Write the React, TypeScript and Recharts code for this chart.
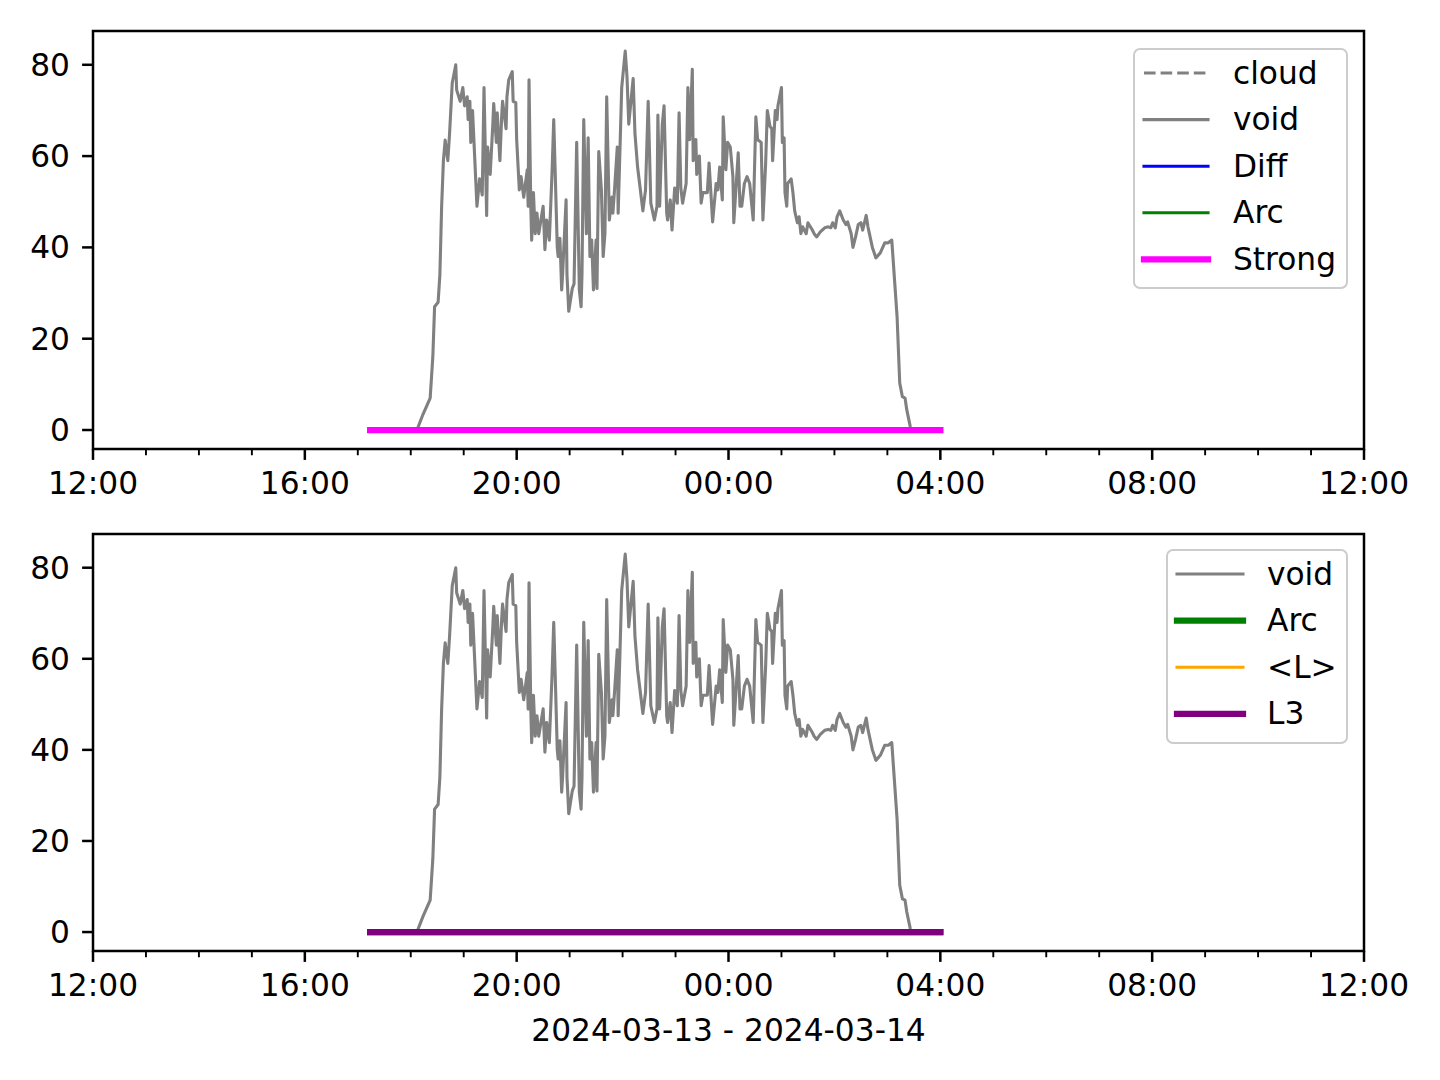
import React from 'react';
import { LineChart, Line, XAxis, YAxis, Legend, ReferenceArea } from 'recharts';

// grey "void" trace (clock time, value)
const voidTimes = [
  '18:07', '18:14', '18:22', '18:25', '18:27', '18:31', '18:33', '18:35', '18:37', '18:39',
  '18:42', '18:44', '18:47', '18:48', '18:51', '18:52', '18:56', '18:59', '19:01', '19:04',
  '19:05', '19:07', '19:08', '19:10', '19:15', '19:18', '19:21', '19:23', '19:26', '19:27',
  '19:30', '19:33', '19:34', '19:37', '19:38', '19:41', '19:43', '19:44', '19:48', '19:49',
  '19:51', '19:55', '19:56', '19:59', '20:00', '20:03', '20:05', '20:08', '20:12', '20:13',
  '20:14', '20:16', '20:17', '20:19', '20:21', '20:23', '20:25', '20:30', '20:32', '20:34',
  '20:37', '20:40', '20:42', '20:46', '20:47', '20:49', '20:51', '20:52', '20:56', '20:57',
  '20:59', '21:03', '21:05', '21:08', '21:11', '21:13', '21:14', '21:16', '21:19', '21:21',
  '21:23', '21:25', '21:27', '21:30', '21:31', '21:33', '21:36', '21:38', '21:40', '21:42',
  '21:45', '21:48', '21:49', '21:51', '21:54', '21:55', '21:59', '22:03', '22:05', '22:07',
  '22:12', '22:14', '22:17', '22:23', '22:26', '22:29', '22:32', '22:36', '22:39', '22:40',
  '22:42', '22:45', '22:47', '22:50', '22:51', '22:54', '22:56', '22:59', '23:02', '23:04',
  '23:06', '23:08', '23:12', '23:14', '23:16', '23:19', '23:20', '23:23', '23:24', '23:27',
  '23:29', '23:31', '23:36', '23:38', '23:42', '23:46', '23:48', '23:50', '23:53', '23:54',
  '23:57', '23:59', '00:02', '00:05', '00:06', '00:11', '00:13', '00:15', '00:18', '00:21',
  '00:24', '00:28', '00:31', '00:33', '00:37', '00:39', '00:42', '00:44', '00:47', '00:49',
  '00:50', '00:53', '00:55', '00:56', '01:00', '01:01', '01:03', '01:04', '01:06', '01:07',
  '01:11', '01:13', '01:15', '01:18', '01:20', '01:22', '01:24', '01:28', '01:30', '01:35',
  '01:37', '01:40', '01:44', '01:49', '01:53', '01:56', '01:58', '02:01', '02:03', '02:06',
  '02:10', '02:13', '02:15', '02:19', '02:21', '02:24', '02:27', '02:30', '02:32', '02:36',
  '02:38', '02:43', '02:47', '02:52', '02:57', '03:01', '03:05', '03:06', '03:11', '03:14',
  '03:17', '03:20', '03:22', '03:26', '03:27',
];
const voidValues = [
  0, 3.5, 7, 16, 27, 28, 34, 49, 59, 63.5,
  59, 65, 76, 77, 80, 74.5, 72, 75, 71, 73,
  68, 72, 63, 70, 49, 55, 51.5, 75, 47, 62,
  56, 67, 71.5, 63, 69.5, 59, 68.6, 72, 66, 73,
  76.7, 78.5, 72, 71.7, 63.6, 52.6, 55.5, 51, 57, 49,
  76.7, 49, 41.6, 52, 43, 47.5, 43, 49, 39.5, 46,
  41.6, 56, 68, 40, 38, 42, 30.7, 34, 50.4, 34,
  26, 31, 32, 63, 30.7, 27, 34, 68, 43, 64,
  38, 41.6, 30.7, 41.6, 31, 61, 52.6, 38, 43, 73,
  46, 51, 47.5, 53, 62, 47.5, 75, 83, 77.4, 67,
  77, 65, 57.6, 48, 52.6, 72, 49.7, 46, 49, 69,
  49, 67, 71, 47.5, 46, 50.4, 43.8, 53, 49.7, 69.5,
  53, 49.7, 54, 75, 63.6, 79, 59, 63.6, 56, 60,
  49.7, 52, 52, 58.5, 45.6, 54, 52.6, 57.6, 50.4, 68.6,
  57, 63, 62, 55.5, 45.4, 60.7, 49, 49, 54, 55.5,
  54, 46, 68.6, 63.6, 63, 46, 58, 70, 66.5, 66,
  59, 70, 68, 71, 75, 63, 64, 52, 49, 54,
  55, 52, 48, 45.4, 46.7, 43, 44.5, 43, 45.4, 43.8,
  43, 42.3, 43.4, 44.3, 44.5, 44.3, 45.4, 44.3, 46.7, 48,
  46, 45, 45.6, 43, 40, 42.3, 45, 45.4, 43.8, 47,
  44.5, 40, 37.7, 38.8, 41, 41, 41.6, 38.8, 24.8, 10.3,
  7.3, 7, 4.4, 0.7, 0,
];

// flat series sitting on zero
const flatTimes = ['17:14', '04:00'];
const diffValues = [0, 0];
const arcValues = [0, 0];
const strongValues = [0, 0];
const meanLValues = [0, 0];
const l3Values = [0, 0];

const xTicks = [
  0, 60, 120, 180, 240, 300, 360, 420, 480, 540, 600, 660, 720,
  780, 840, 900, 960, 1020, 1080, 1140, 1200, 1260, 1320, 1380, 1440,
];
const yTicks = [0, 20, 40, 60, 80];
const dateLabel = '2024-03-13 - 2024-03-14';

const FONT = 'DejaVu Sans';
const FS = 31.25;
const X_DOMAIN = [0, 1440];
const Y_DOMAIN = [-4.16, 87.4];

// minutes after 12:00 of the first day
const toMin = (s: string) => {
  const [h, m] = s.split(':').map(Number);
  let t = (h - 12) * 60 + m;
  if (t < 0) t += 1440;
  return t;
};
const fmtClock = (v: number) => {
  const t = (720 + v) % 1440;
  const h = Math.floor(t / 60);
  const m = t % 60;
  return `${String(h).padStart(2, '0')}:${String(m).padStart(2, '0')}`;
};
const series = (times: string[], values: number[]) =>
  times.map((s, i) => ({ t: toMin(s), v: values[i] }));

const voidData = series(voidTimes, voidValues);
const diffData = series(flatTimes, diffValues);
const arcData = series(flatTimes, arcValues);
const strongData = series(flatTimes, strongValues);
const meanLData = series(flatTimes, meanLValues);
const l3Data = series(flatTimes, l3Values);

const XTick = (props: any) => {
  const { x, y, payload } = props;
  const major = payload.value % 240 === 0;
  return (
    <g>
      <line x1={x} x2={x} y1={y} y2={y + (major ? 10.9 : 6.25)} stroke="#000" strokeWidth={major ? 2.5 : 1.9} />
      {major && (
        <text x={x} y={y + 45} textAnchor="middle" fontSize={FS} fontFamily={FONT} fill="#000">
          {fmtClock(payload.value)}
        </text>
      )}
    </g>
  );
};

const YTick = (props: any) => {
  const { x, y, payload } = props;
  return (
    <g>
      <line x1={x - 10.9} x2={x} y1={y} y2={y} stroke="#000" strokeWidth={2.5} />
      <text x={x - 23} y={y + 10.8} textAnchor="end" fontSize={FS} fontFamily={FONT} fill="#000">
        {payload.value}
      </text>
    </g>
  );
};

type LegendItem = { name: string; color: string; width: number; dash?: string };

const topLegend: LegendItem[] = [
  { name: 'cloud', color: '#808080', width: 3.1, dash: '11.6 5' },
  { name: 'void', color: '#808080', width: 3.1 },
  { name: 'Diff', color: '#0000ff', width: 3.1 },
  { name: 'Arc', color: '#008000', width: 3.1 },
  { name: 'Strong', color: '#ff00ff', width: 6.25 },
];
const bottomLegend: LegendItem[] = [
  { name: 'void', color: '#808080', width: 3.1 },
  { name: 'Arc', color: '#008000', width: 6.25 },
  { name: '<L>', color: '#ffa500', width: 3.1 },
  { name: 'L3', color: '#800080', width: 6.25 },
];

const LegendBox = ({ items, width, height, h1, h2, tx }: { items: LegendItem[]; width: number; height: number; h1: number; h2: number; tx: number }) => (
  <svg width={width} height={height} style={{ display: 'block' }}>
    <rect x={1} y={1} width={width - 2} height={height - 2} rx={6} fill="#fff" fillOpacity={0.8} stroke="#cccccc" strokeWidth={2} />
    {items.map((it, i) => {
      const cy = 25 + i * 46.6;
      return (
        <g key={it.name}>
          <line
            x1={h1} x2={h2} y1={cy} y2={cy}
            stroke={it.color} strokeWidth={it.width}
            strokeDasharray={it.dash}
            strokeLinecap={it.dash ? 'butt' : 'square'}
          />
          <text x={tx} y={cy + 10.5} fontSize={FS} fontFamily={FONT} fill="#000">{it.name}</text>
        </g>
      );
    })}
  </svg>
);

const lineProps = {
  type: 'linear' as const,
  dataKey: 'v',
  dot: false,
  activeDot: false,
  isAnimationActive: false,
  strokeLinejoin: 'round' as const,
  strokeLinecap: 'square' as const,
  legendType: 'none' as const,
};

const Axes = ({ label }: { label?: boolean }) => (
  <>
    <XAxis
      xAxisId={0}
      type="number"
      dataKey="t"
      domain={X_DOMAIN}
      ticks={xTicks}
      interval={0}
      allowDataOverflow
      height={label ? 60 : 51}
      axisLine={false}
      tickLine={false}
      tickSize={0}
      tickMargin={0}
      tick={<XTick />}
      label={label ? { value: dateLabel, position: 'bottom', offset: 8, fill: '#000', fontSize: FS, fontFamily: FONT } : undefined}
    />
    <YAxis
      yAxisId={0}
      type="number"
      domain={Y_DOMAIN}
      ticks={yTicks}
      interval={0}
      allowDataOverflow
      width={93}
      axisLine={false}
      tickLine={false}
      tickSize={0}
      tickMargin={0}
      tick={<YTick />}
    />
  </>
);

export default function App() {
  return (
    <div style={{ position: 'absolute', left: 0, top: 0, width: 1440, height: 1080, background: '#fff', fontFamily: FONT }}>
      <div style={{ position: 'absolute', left: 0, top: 0 }}>
        <LineChart width={1440} height={500} margin={{ top: 31, right: 76, bottom: 0, left: 0 }}>
          {Axes({})}
          <Line {...lineProps} data={voidData} stroke="#808080" strokeWidth={3.1} name="void" />
          <Line {...lineProps} data={diffData} stroke="#0000ff" strokeWidth={3.1} name="Diff" />
          <Line {...lineProps} data={arcData} stroke="#008000" strokeWidth={3.1} name="Arc" />
          <Line {...lineProps} data={strongData} stroke="#ff00ff" strokeWidth={6.25} name="Strong" />
          <ReferenceArea x1={0} x2={1440} y1={-4.16} y2={87.4} fill="none" stroke="#000" strokeWidth={2.5} ifOverflow="visible" />
          <Legend
            layout="vertical"
            align="center"
            verticalAlign="middle"
            wrapperStyle={{ left: 1133, top: 48, width: 215, height: 241 }}
            content={() => <LegendBox items={topLegend} width={215} height={241} h1={11} h2={75} tx={100} />}
          />
        </LineChart>
      </div>
      <div style={{ position: 'absolute', left: 0, top: 500 }}>
        <LineChart width={1440} height={580} margin={{ top: 34, right: 76, bottom: 69, left: 0 }}>
          {Axes({ label: true })}
          <Line {...lineProps} data={voidData} stroke="#808080" strokeWidth={3.1} name="void" />
          <Line {...lineProps} data={arcData} stroke="#008000" strokeWidth={6.25} name="Arc" />
          <Line {...lineProps} data={meanLData} stroke="#ffa500" strokeWidth={3.1} name="<L>" />
          <Line {...lineProps} data={l3Data} stroke="#800080" strokeWidth={6.25} name="L3" />
          <ReferenceArea x1={0} x2={1440} y1={-4.16} y2={87.4} fill="none" stroke="#000" strokeWidth={2.5} ifOverflow="visible" />
          <Legend
            layout="vertical"
            align="center"
            verticalAlign="middle"
            wrapperStyle={{ left: 1166, top: 49, width: 182, height: 195 }}
            content={() => <LegendBox items={bottomLegend} width={182} height={195} h1={11} h2={77} tx={101} />}
          />
        </LineChart>
      </div>
    </div>
  );
}
